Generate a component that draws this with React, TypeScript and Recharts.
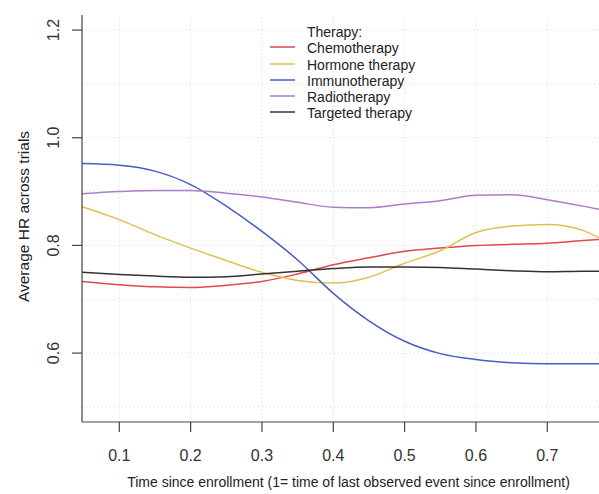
import React from 'react';
import { LineChart, Line, XAxis, YAxis, ReferenceLine, Legend, Label } from 'recharts';

const times = [0.0477, 0.1, 0.15, 0.2, 0.25, 0.3, 0.35, 0.4, 0.45, 0.5, 0.55, 0.6, 0.65, 0.7, 0.75, 0.7725];
const chemotherapy = [0.733, 0.727, 0.723, 0.722, 0.726, 0.733, 0.747, 0.764, 0.777, 0.789, 0.795, 0.8, 0.802, 0.804, 0.809, 0.811];
const hormoneTherapy = [0.872, 0.848, 0.82, 0.795, 0.772, 0.75, 0.735, 0.73, 0.741, 0.767, 0.79, 0.824, 0.836, 0.839, 0.828, 0.814];
const immunotherapy = [0.952, 0.949, 0.938, 0.913, 0.873, 0.826, 0.773, 0.711, 0.66, 0.622, 0.599, 0.588, 0.582, 0.58, 0.58, 0.58];
const radiotherapy = [0.896, 0.9, 0.902, 0.902, 0.897, 0.89, 0.88, 0.871, 0.87, 0.877, 0.883, 0.893, 0.894, 0.885, 0.873, 0.867];
const targetedTherapy = [0.75, 0.746, 0.743, 0.741, 0.742, 0.747, 0.752, 0.757, 0.76, 0.76, 0.759, 0.756, 0.753, 0.751, 0.752, 0.752];

const xTicks = [0.1, 0.2, 0.3, 0.4, 0.5, 0.6, 0.7];
const yTicks = [0.6, 0.8, 1.0, 1.2];
const yGrid = [0.5, 0.6, 0.7, 0.8, 0.9, 1.0, 1.1, 1.2];

const series = [
  { key: 'chemo', name: 'Chemotherapy', color: '#e2474e', values: chemotherapy },
  { key: 'hormone', name: 'Hormone therapy', color: '#e0bf4c', values: hormoneTherapy },
  { key: 'immuno', name: 'Immunotherapy', color: '#4a5dc4', values: immunotherapy },
  { key: 'radio', name: 'Radiotherapy', color: '#a97ecb', values: radiotherapy },
  { key: 'targeted', name: 'Targeted therapy', color: '#333333', values: targetedTherapy },
];

const data = times.map((t, i) => {
  const row: Record<string, number> = { t };
  series.forEach(s => { row[s.key] = s.values[i]; });
  return row;
});

const font = '"Liberation Sans", Arial, Helvetica, sans-serif';

const XTick = (props: any) => {
  const { x, y, payload } = props;
  return (
    <text x={x} y={y + 27} textAnchor="middle" fontFamily={font} fontSize={16} fill="#333">
      {payload.value.toFixed(1)}
    </text>
  );
};

const YTick = (props: any) => {
  const { y, payload } = props;
  return (
    <text transform={`translate(59,${y}) rotate(-90)`} textAnchor="middle" fontFamily={font} fontSize={16} fill="#333">
      {payload.value.toFixed(1)}
    </text>
  );
};

const LegendBox = () => (
  <div style={{ fontFamily: font, fontSize: 14, color: '#222', lineHeight: '16.25px', whiteSpace: 'nowrap' }}>
    <div style={{ paddingLeft: 45 }}>Therapy:</div>
    {series.map(s => (
      <div key={s.key} style={{ display: 'flex', alignItems: 'center', height: 16.25 }}>
        <svg width={37} height={16} style={{ marginLeft: 8 }}>
          <line x1={0} x2={25} y1={7} y2={7} stroke={s.color} strokeWidth={1.5} />
        </svg>
        <span>{s.name}</span>
      </div>
    ))}
  </div>
);

const App = () => (
  <div style={{ position: 'absolute', left: 0, top: 0, width: 599, height: 494, background: '#fff' }}>
    <LineChart width={599} height={494} data={data} margin={{ top: 15, right: 0, bottom: 0, left: 0 }}>
      {xTicks.map(v => (
        <ReferenceLine key={`gx${v}`} x={v} stroke="#d6d6d6" strokeDasharray="1 3" />
      ))}
      {yGrid.map(v => (
        <ReferenceLine key={`gy${v}`} y={v} stroke="#d6d6d6" strokeDasharray="1 3" />
      ))}
      <XAxis
        dataKey="t"
        type="number"
        domain={[0.0477, 0.7725]}
        allowDataOverflow
        ticks={xTicks}
        tick={<XTick />}
        tickSize={10}
        height={72}
        axisLine={{ stroke: '#444', strokeWidth: 1.2 }}
        tickLine={{ stroke: '#444', strokeWidth: 1.2 }}
      >
        <Label
          content={(p: any) => (
            <text x={p.viewBox.x + p.viewBox.width / 2 + 8} y={487} textAnchor="middle" fontFamily={font} fontSize={14} fill="#222">
              Time since enrollment (1= time of last observed event since enrollment)
            </text>
          )}
        />
      </XAxis>
      <YAxis
        type="number"
        domain={[0.472, 1.228]}
        allowDataOverflow
        ticks={yTicks}
        tick={<YTick />}
        tickSize={10}
        width={82}
        axisLine={{ stroke: '#444', strokeWidth: 1.2 }}
        tickLine={{ stroke: '#444', strokeWidth: 1.2 }}
      >
        <Label
          content={(p: any) => (
            <text transform={`translate(29,${p.viewBox.y + p.viewBox.height / 2 - 2}) rotate(-90)`} textAnchor="middle" fontFamily={font} fontSize={15.5} fill="#222">
              Average HR across trials
            </text>
          )}
        />
      </YAxis>
      {series.map(s => (
        <Line
          key={s.key}
          dataKey={s.key}
          name={s.name}
          type="monotone"
          stroke={s.color}
          strokeWidth={1.5}
          dot={false}
          isAnimationActive={false}
        />
      ))}
      <Legend
        verticalAlign="middle"
        align="center"
        content={<LegendBox />}
        wrapperStyle={{ left: 262, top: 24, width: 'auto', height: 'auto' }}
      />
    </LineChart>
  </div>
);

export default App;
